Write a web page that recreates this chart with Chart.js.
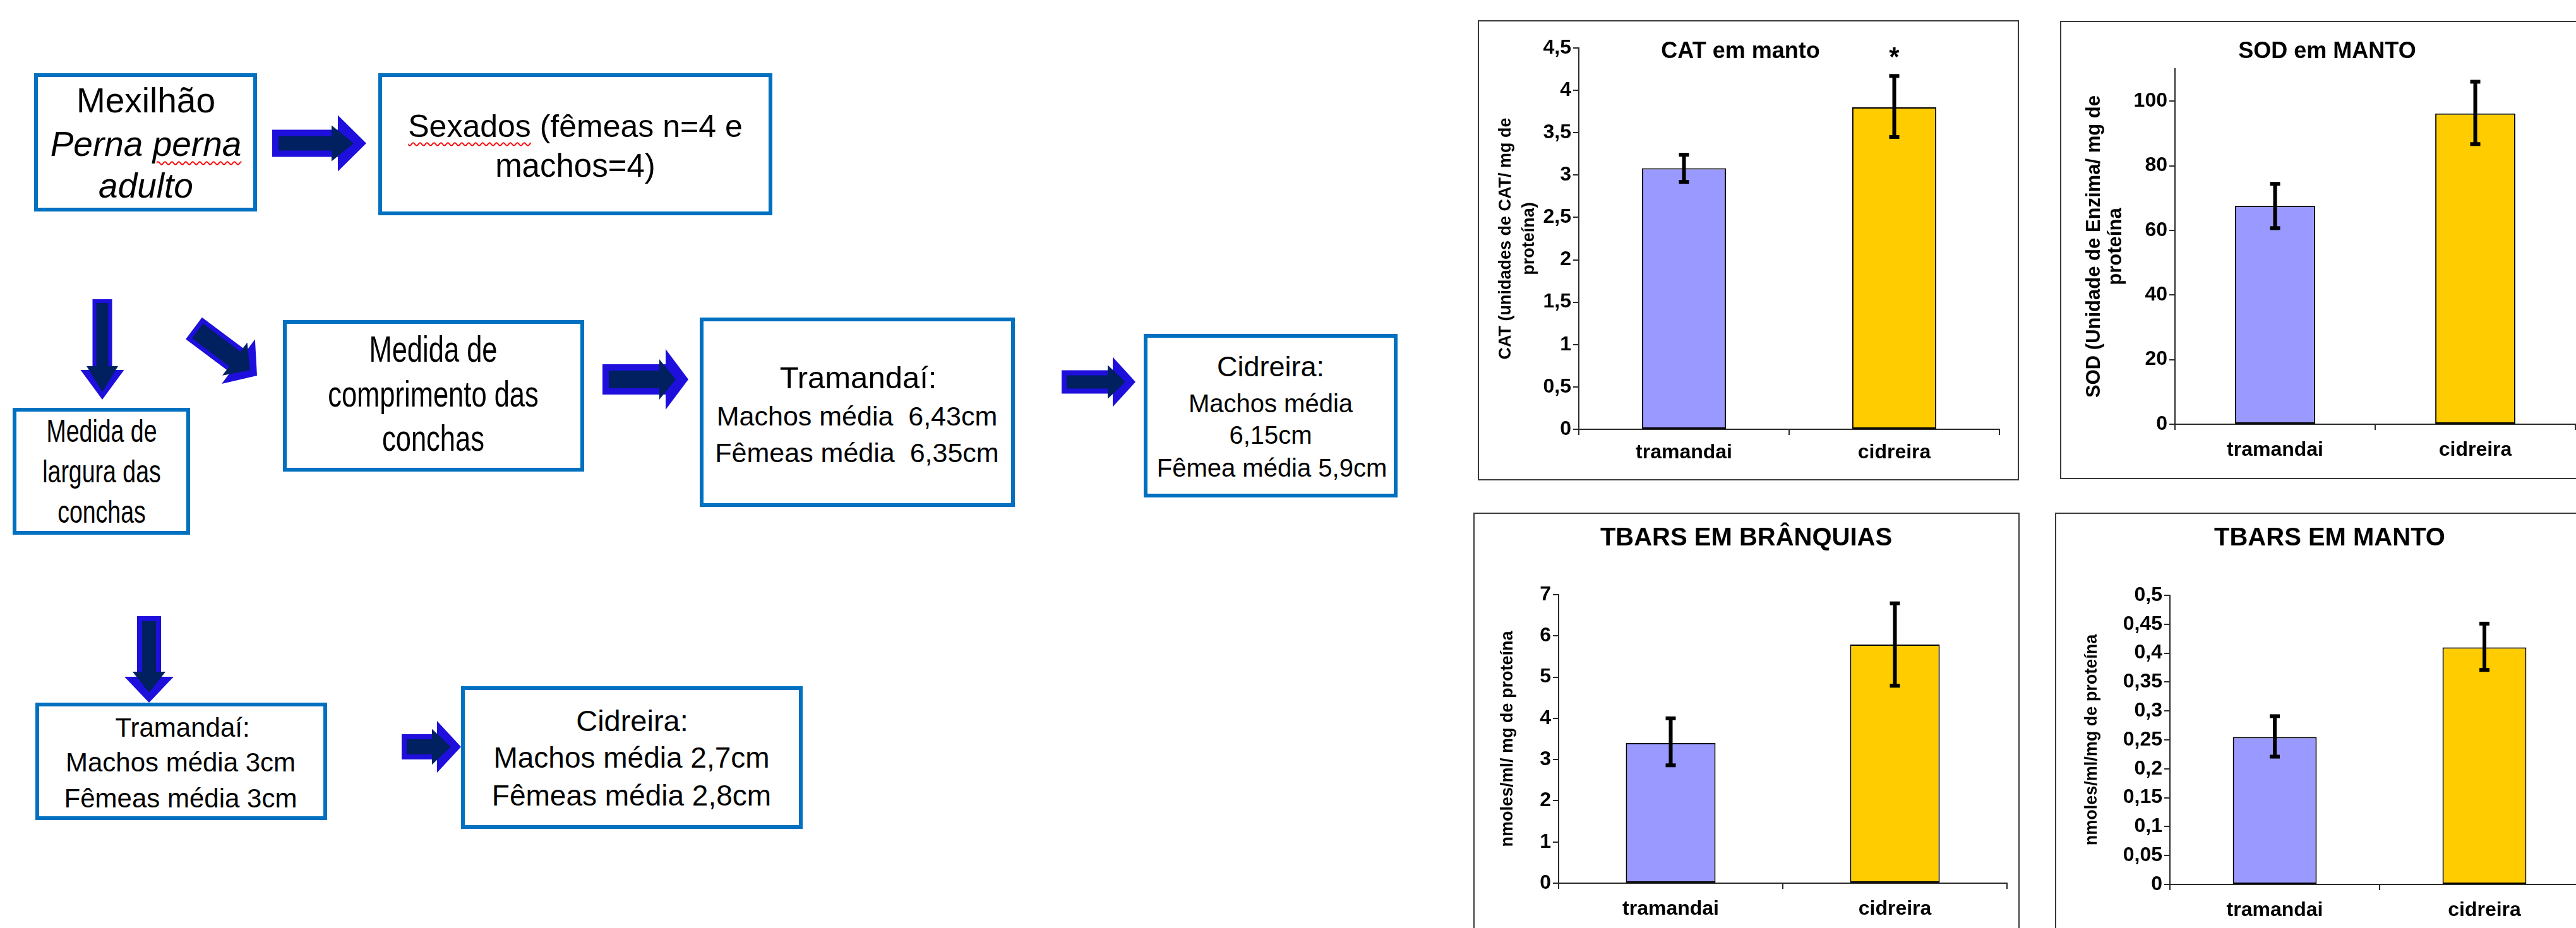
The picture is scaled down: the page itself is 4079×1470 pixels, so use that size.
<!DOCTYPE html>
<html lang="pt">
<head>
  <meta charset="UTF-8">
  <title>Mexilhão Perna perna - Tramandaí x Cidreira</title>
  <script src="https://cdn.jsdelivr.net/npm/chart.js"></script>
  <style>
    html, body {
      margin: 0;
      padding: 0;
      width: 4079px;
      height: 1470px;
      overflow: hidden;
      background: #fff;
      font-family: "Liberation Sans", Arial, sans-serif;
    }
    .box {
      position: absolute;
      box-sizing: border-box;
      border: 6px solid #0070C0;
      background: #fff;
    }
    .line {
      position: absolute;
      width: 2000px;
      text-align: center;
      white-space: pre;
      color: #000;
    }
    .sp {
      text-decoration: underline wavy #ff0000;
      text-decoration-thickness: 2px;
      text-underline-offset: 8px;
    }
    .panel {
      position: absolute;
      box-sizing: border-box;
      border: 2px solid #3a3a3a;
    }
    canvas {
      position: absolute;
    }
  </style>
</head>
<body>
  <svg id="arrows" width="4079" height="1470" style="position:absolute;left:0;top:0"></svg>
  <div id="flow"></div>

  <div class="panel" style="left:2340px;top:32px;width:857px;height:729px"></div>
  <div class="panel" style="left:3262px;top:33px;width:900px;height:726px"></div>
  <div class="panel" style="left:2333px;top:812px;width:865px;height:720px"></div>
  <div class="panel" style="left:3254px;top:812px;width:900px;height:720px"></div>

  <canvas id="catChart" width="857" height="729" style="left:2340px;top:32px"></canvas>
  <canvas id="sodChart" width="842" height="726" style="left:3262px;top:33px"></canvas>
  <canvas id="brqChart" width="865" height="680" style="left:2333px;top:812px"></canvas>
  <canvas id="mtoChart" width="870" height="680" style="left:3254px;top:812px"></canvas>
</body>
<script>
  // ---- chart data ----
  const sites = ['tramandai', 'cidreira'];
  const barColors = ['#9999FF', '#FFCC00'];

  const catMean = [3.08, 3.80];
  const catLow = [2.92, 3.45];
  const catHigh = [3.24, 4.17];
  const catMarks = ['', '*'];
  const catTicks = ['0', '0,5', '1', '1,5', '2', '2,5', '3', '3,5', '4', '4,5'];

  const sodMean = [67.6, 96.2];
  const sodLow = [60.7, 86.7];
  const sodHigh = [74.4, 106];
  const sodTicks = ['0', '20', '40', '60', '80', '100'];

  const brqMean = [3.40, 5.79];
  const brqLow = [2.86, 4.79];
  const brqHigh = [4.00, 6.79];
  const brqTicks = ['0', '1', '2', '3', '4', '5', '6', '7'];

  const mtoMean = [0.255, 0.41];
  const mtoLow = [0.221, 0.371];
  const mtoHigh = [0.291, 0.451];
  const mtoTicks = ['0', '0,05', '0,1', '0,15', '0,2', '0,25', '0,3', '0,35', '0,4', '0,45', '0,5'];

  // ---- flowchart (boxes, text lines, arrows) ----
  const boxes = [
    [54, 116, 407, 335],
    [599, 116, 1223, 341],
    [20, 646, 301, 847],
    [448, 507, 925, 747],
    [1108, 503, 1607, 803],
    [1811, 529, 2213, 788],
    [56, 1113, 518, 1299],
    [730, 1087, 1271, 1313]
  ];

  // text, center x, baseline y, font size, style
  const lines = [
    ['Mexilhão', 231, 178, 55, ''],
    ['Perna <span class="sp">perna</span>', 231, 247, 55, 'i'],
    ['adulto', 231, 313, 55, 'i'],
    ['<span class="sp">Sexados</span> (fêmeas n=4 e', 911, 217, 50, ''],
    ['machos=4)', 911, 280, 51, ''],
    ['Medida de', 161, 700, 50, 'n'],
    ['largura das', 161, 764, 50, 'n'],
    ['conchas', 161, 828, 50, 'n'],
    ['Medida de', 686, 573, 58, 'n'],
    ['comprimento das', 686, 644, 58, 'n'],
    ['conchas', 686, 714, 58, 'n'],
    ['Tramandaí:', 1359, 615, 49, ''],
    ['Machos média  6,43cm', 1357, 675, 43, ''],
    ['Fêmeas média  6,35cm', 1357, 733, 43, ''],
    ['Cidreira:', 2012, 597, 45, ''],
    ['Machos média', 2012, 653, 40, ''],
    ['6,15cm', 2012, 703, 40, ''],
    ['Fêmea média 5,9cm', 2014, 755, 40, ''],
    ['Tramandaí:', 289, 1168, 42, ''],
    ['Machos média 3cm', 286, 1223, 42, ''],
    ['Fêmeas média 3cm', 286, 1280, 42, ''],
    ['Cidreira:', 1001, 1158, 47, ''],
    ['Machos média 2,7cm', 1000, 1217, 46, ''],
    ['Fêmeas média 2,8cm', 1000, 1277, 46, '']
  ];

  // tail x, tail y, tip x, tip y, shaft width, head width, head length, rim
  const arrows = [
    [431, 227, 580, 227, 43, 89, 45, 10],
    [954, 601, 1090, 601, 48, 96, 36, 10],
    [1681, 605, 1798, 605, 37, 79, 36, 8],
    [636, 1183, 730, 1183, 40, 82, 38, 8],
    [162, 474, 162, 633, 31, 69, 47, 6],
    [236, 976, 236, 1113, 38, 78, 41, 8],
    [307, 520, 407, 595, 43, 88, 37, 7]
  ];

  let flow = document.getElementById('flow');
  boxes.forEach(b => {
    let d = document.createElement('div');
    d.className = 'box';
    d.style.left = b[0] + 'px';
    d.style.top = b[1] + 'px';
    d.style.width = (b[2] - b[0]) + 'px';
    d.style.height = (b[3] - b[1]) + 'px';
    flow.appendChild(d);
  });

  lines.forEach(l => {
    let d = document.createElement('div');
    d.className = 'line';
    d.innerHTML = l[0];
    let size = l[3];
    d.style.fontSize = size + 'px';
    d.style.lineHeight = (size * 1.2) + 'px';
    d.style.left = (l[1] - 1000) + 'px';
    // put the baseline where the picture has it
    d.style.top = (l[2] - 0.9465 * size) + 'px';
    if (l[4] === 'i') d.style.fontStyle = 'italic';
    if (l[4] === 'n') d.style.transform = 'scaleX(0.75)';
    flow.appendChild(d);
  });

  function arrowPoints(x1, y1, x2, y2, sw, hw, hl) {
    let len = Math.hypot(x2 - x1, y2 - y1);
    let ux = (x2 - x1) / len, uy = (y2 - y1) / len;
    let nx = -uy, ny = ux;
    let hx = x2 - ux * hl, hy = y2 - uy * hl;
    let p = [
      [x1 + nx * sw / 2, y1 + ny * sw / 2],
      [hx + nx * sw / 2, hy + ny * sw / 2],
      [hx + nx * hw / 2, hy + ny * hw / 2],
      [x2, y2],
      [hx - nx * hw / 2, hy - ny * hw / 2],
      [hx - nx * sw / 2, hy - ny * sw / 2],
      [x1 - nx * sw / 2, y1 - ny * sw / 2]
    ];
    return p.map(q => q[0].toFixed(1) + ',' + q[1].toFixed(1)).join(' ');
  }

  let svg = document.getElementById('arrows');
  let svgHtml = '';
  arrows.forEach(a => {
    let [x1, y1, x2, y2, sw, hw, hl, t] = a;
    let len = Math.hypot(x2 - x1, y2 - y1);
    let ux = (x2 - x1) / len, uy = (y2 - y1) / len;
    svgHtml += '<polygon fill="#1E0FDC" points="' + arrowPoints(x1, y1, x2, y2, sw, hw, hl) + '"/>';
    svgHtml += '<polygon fill="#002060" points="' +
      arrowPoints(x1 + ux * t, y1 + uy * t, x2 - ux * 2 * t, y2 - uy * 2 * t,
                  sw - 2 * t, hw - 3.2 * t, hl - t) + '"/>';
  });
  svg.innerHTML = svgHtml;

  // ---- charts ----
  const fontFamily = '"Liberation Sans", Arial, sans-serif';
  const axisColor = '#2a2a2a';
  Chart.defaults.font.family = fontFamily;
  Chart.defaults.color = '#000';

  // error bars drawn on top of each bar
  const errorBars = {
    id: 'errorBars',
    afterDatasetsDraw(chart, args, opts) {
      let ctx = chart.ctx;
      let y = chart.scales.y;
      ctx.save();
      ctx.fillStyle = '#000';
      chart.getDatasetMeta(0).data.forEach((bar, i) => {
        let top = y.getPixelForValue(opts.high[i]);
        let bot = y.getPixelForValue(opts.low[i]);
        ctx.fillRect(bar.x - 3, top, 6, bot - top);
        ctx.fillRect(bar.x - 8, top - 3, 16, 6);
        ctx.fillRect(bar.x - 8, bot - 3, 16, 6);
      });
      ctx.restore();
    }
  };

  // title inside the plot and the significance marks
  const panelText = {
    id: 'panelText',
    afterDraw(chart, args, opts) {
      let ctx = chart.ctx;
      ctx.save();
      ctx.fillStyle = '#000';
      ctx.textAlign = 'center';
      ctx.textBaseline = 'middle';
      ctx.font = 'bold ' + opts.size + 'px ' + fontFamily;
      ctx.fillText(opts.title, opts.x, opts.y);
      if (opts.marks) {
        let meta = chart.getDatasetMeta(0);
        ctx.textBaseline = 'alphabetic';
        ctx.font = 'bold 42px ' + fontFamily;
        opts.marks.forEach((m, i) => {
          if (m) ctx.fillText(m, meta.data[i].x, opts.markY);
        });
      }
      ctx.restore();
    }
  };

  function barPanel(id, p) {
    return new Chart(document.getElementById(id), {
      type: 'bar',
      data: {
        labels: sites,
        datasets: [{
          data: p.mean,
          backgroundColor: barColors,
          borderColor: '#000',
          borderWidth: 2,
          borderSkipped: false,
          barPercentage: 0.4,
          categoryPercentage: 1
        }]
      },
      plugins: [errorBars, panelText],
      options: {
        responsive: false,
        animation: false,
        devicePixelRatio: 1,
        layout: { padding: { top: p.top, right: p.right, left: 0, bottom: 0 } },
        plugins: {
          legend: { display: false },
          tooltip: { enabled: false },
          errorBars: { low: p.low, high: p.high },
          panelText: { title: p.title, x: p.tx, y: p.ty, size: p.tsize, marks: p.marks, markY: p.markY }
        },
        scales: {
          x: {
            offset: true,
            grid: { offset: true, drawOnChartArea: false, color: axisColor, lineWidth: 2, tickLength: 9 },
            border: { color: axisColor, width: 2 },
            ticks: { color: '#000', font: { size: 32, weight: 'bold' }, padding: p.xPad },
            afterFit: s => { s.height = p.xHeight; s.paddingLeft = 0; s.paddingRight = 0; }
          },
          y: {
            min: 0,
            max: p.max,
            ticks: {
              stepSize: p.step,
              includeBounds: false,
              color: '#000',
              font: { size: 32, weight: 'bold' },
              padding: 3,
              callback: (v, i) => p.ticks[i]
            },
            grid: { drawOnChartArea: false, color: axisColor, lineWidth: 2, tickLength: 9 },
            border: { color: axisColor, width: 2 },
            title: {
              display: true,
              text: p.yTitle,
              color: '#000',
              font: { size: p.ySize, weight: 'bold', lineHeight: p.yLine },
              padding: { top: p.yPad, bottom: 0 }
            },
            afterFit: s => { s.width = p.yWidth; s.paddingTop = 0; s.paddingBottom = 0; }
          }
        }
      }
    });
  }

  barPanel('catChart', {
    mean: catMean, low: catLow, high: catHigh, ticks: catTicks, marks: catMarks,
    max: 4.5, step: 0.5,
    title: 'CAT em manto', tx: 416, ty: 50, tsize: 36, markY: 72,
    yTitle: ['CAT (unidades de CAT/ mg de', 'proteína)'], ySize: 27, yLine: 1.38, yPad: 26,
    top: 44, right: 31, yWidth: 160, xHeight: 81, xPad: 9
  });

  barPanel('sodChart', {
    mean: sodMean, low: sodLow, high: sodHigh, ticks: sodTicks,
    max: 110, step: 20,
    title: 'SOD em MANTO', tx: 423, ty: 49, tsize: 36,
    yTitle: ['SOD (Unidade de Enzima/ mg de', 'proteína'], ySize: 31, yLine: 1.1, yPad: 37,
    top: 76, right: 26, yWidth: 182, xHeight: 87, xPad: 13
  });

  barPanel('brqChart', {
    mean: brqMean, low: brqLow, high: brqHigh, ticks: brqTicks,
    max: 7, step: 1,
    title: 'TBARS EM BRÂNQUIAS', tx: 432, ty: 41, tsize: 40,
    yTitle: 'nmoles/ml/ mg de proteína', ySize: 27, yLine: 1.2, yPad: 38,
    top: 130, right: 20, yWidth: 135, xHeight: 93, xPad: 13
  });

  barPanel('mtoChart', {
    mean: mtoMean, low: mtoLow, high: mtoHigh, ticks: mtoTicks,
    max: 0.5, step: 0.05,
    title: 'TBARS EM MANTO', tx: 435, ty: 41, tsize: 40,
    yTitle: 'nmoles/ml/mg de proteína', ySize: 27, yLine: 1.2, yPad: 42,
    top: 131, right: 24, yWidth: 182, xHeight: 91, xPad: 13
  });
</script>
</html>
